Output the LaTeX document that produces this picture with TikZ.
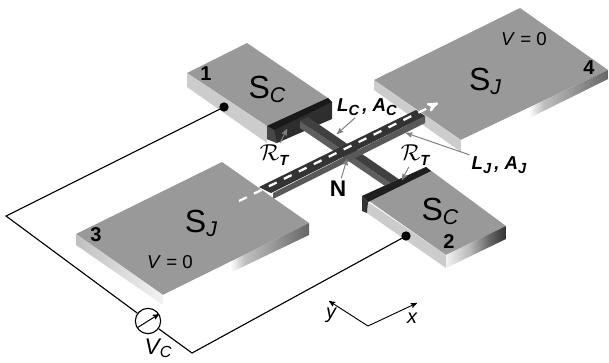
\documentclass[tikz,border=0pt]{standalone}
\usepackage{fontspec}
\setmainfont{Liberation Sans}
\usetikzlibrary{arrows,calc}
\usetikzlibrary{positioning}
\pgfdeclarehorizontalshading{jface}{100bp}{rgb(0bp)=(1,1,1);rgb(48bp)=(1,1,1);rgb(53bp)=(.75,.75,.75);rgb(75bp)=(.4,.4,.4);rgb(100bp)=(.4,.4,.4)}
\pgfdeclarehorizontalshading{cface}{100bp}{rgb(0bp)=(.95,.95,.95);rgb(25bp)=(.95,.95,.95);rgb(45bp)=(.72,.72,.72);rgb(61bp)=(.4,.4,.4);rgb(75bp)=(.2,.2,.2);rgb(100bp)=(.2,.2,.2)}
\newcommand\fs[1]{\fontsize{#1}{#1}\selectfont}
\newcommand\supname[1]{\fs{24}S\raisebox{-3pt}{\fs{16}\itshape #1}}
\newcommand\rtname{\fs{17.28}$\mathcal{R}$\raisebox{-4pt}{\fs{11}\bfseries\itshape T}}
\newcommand\lenname[1]{\fs{14}\bfseries\itshape L\raisebox{-2.5pt}{\fs{11}#1}\,, A\raisebox{-2.5pt}{\fs{11}#1}}
\definecolor{topgray}{gray}{0.6}
\definecolor{sidegray}{gray}{0.8}
\tikzset{
    >=stealth',
    wire/.style={
           black,
           line width=0.85pt,
           },
    pil/.style={
           ->,
           gray,
           line width=0.75pt,
           shorten <=1pt,
           },
    axis/.style={
           ->,
           black,
           line width=0.7pt,
           },
    num/.style={
           inner sep=0pt,
           font=\fs{15}\bfseries,
           },
    zero/.style={
           inner sep=0pt,
           font=\fs{14},
           },
    txt/.style={
           inner sep=1pt,
           },
    contact/.style={
           circle,
           fill=black,
           inner sep=0pt,
           minimum size=7pt,
           }
}
\begin{document}
\begin{tikzpicture}[x=0.75pt,y=-0.75pt]
	\useasboundingbox (0,0) rectangle (609,362);
	% block 4
	\fill[topgray] (374,80) -- (520,8) -- (608,70) -- (461,140) -- cycle;
	\fill[sidegray] (374,80) -- (461,140) -- (461,152) -- (374,90) -- cycle;
	\shade[shading=jface] (461,140) -- (608,70) -- (608,79) -- (461,152) -- cycle;
	% block 1
	\fill[topgray] (187,73) -- (247,43) -- (328,98) -- (267,126) -- cycle;
	\fill[sidegray] (187,73) -- (267,126) -- (267,143) -- (187,87) -- cycle;
	\fill[black!82] (267,126) -- (328,98) -- (332,102) -- (332,119) -- (277,143) -- (267,139) -- cycle;
	\fill[black!90] (267,126) -- (328,98) -- (332,102) -- (274,130) -- cycle;
	\fill[black!72] (267,126) -- (274,130) -- (277,143) -- (267,139) -- cycle;
	% long strip across
	\fill[black!63] (300,121) -- (300,128) -- (388,188) -- (392,184) -- cycle;
	\fill[black!75] (300,121) -- (308,117) -- (400,180) -- (392,184) -- cycle;
	\fill[black!65] (273,193) -- (425,116) -- (425,123) -- (273,199) -- cycle;
	\fill[black!80] (259,187) -- (416,110) -- (425,116) -- (271,193) -- cycle;
	% block 3
	\fill[topgray] (76,234) -- (222,162) -- (309,223) -- (163,295) -- cycle;
	\shade[left color=black!25,right color=black!5] (76,234) -- (163,295) -- (163,305) -- (76,245) -- cycle;
	\shade[shading=jface] (163,295) -- (309,223) -- (309,235) -- (163,305) -- cycle;
	% block 2
	\fill[topgray] (362,196) -- (426,167) -- (506,226) -- (446,255) -- cycle;
	\fill[sidegray] (368,202) -- (446,255) -- (446,268) -- (367,213) -- cycle;
	\shade[shading=cface] (446,255) -- (506,226) -- (506,239) -- (446,268) -- cycle;
	\fill[black!88] (362,196) -- (426,167) -- (431,171) -- (368,202) -- cycle;
	\fill[black!80] (362,196) -- (368,202) -- (367,213) -- (362,211) -- cycle;
	% white current line
	\coordinate (ds) at (239,201);
	\coordinate (dt) at (438,103);
	\draw[->,white,line width=1.7pt,dash pattern=on 6.5pt off 6pt] (ds) -- (dt);
	% circuit
	\node (c1) at (224,107) [contact] {};
	\node (c2) at (406,236) [contact] {};
	\coordinate (wl) at (6,216);
	\coordinate (wr) at (192,353);
	\node (vm) at (148,321) [circle,draw,fill=white,line width=0.85pt,inner sep=0pt,minimum size=19pt] {};
	\draw[wire] (c1.center) -- (wl) -- (vm);
	\draw[wire] (vm) -- (wr) -- (c2.center);
	\draw[->,line width=0.75pt] (vm.212) -- (vm.32);
	% axes
	\coordinate (o) at (368,326);
	\coordinate (ax) at (417,303);
	\coordinate (ay) at (329,301);
	\draw[axis] (o) -- (ax);
	\draw[axis] (o) -- (ay);
	\node (x) at (412,318) [txt] {\fs{15}\itshape x};
	\node (y) at (331,315) [txt] {\fs{15}\itshape y};
	% names
	\node (s1) at (267,89) [txt] {\supname{C}};
	\node (s2) at (440,211) [txt] {\supname{C}};
	\node (s3) at (201,223) [txt] {\supname{J}};
	\node (s4) at (485,81) [txt] {\supname{J}};
	\node (n1) at (206,74) [num] {1};
	\node (n2) at (449,242) [num] {2};
	\node (n3) at (96,235) [num] {3};
	\node (n4) at (589,68) [num] {4};
	\node (v4) at (524,39) [zero] {\textit{V} = 0};
	\node (v3) at (170,262) [zero] {\textit{V} = 0};
	\node (vc) at (158,348) [txt] {\fs{17}\itshape V\raisebox{-2pt}{\fs{12}C}};
	\node (lc) at (367,107) [txt] {\lenname{C}};
	\node (lj) at (499,165) [txt] {\lenname{J}};
	\node (n) at (338,189) [inner sep=1pt] {\fs{17}\bfseries N};
	\node (r1) at (274,155) [inner sep=0pt] {\rtname};
	\node (r2) at (415,155) [inner sep=0pt] {\rtname};
	% pointers
	\coordinate (plc) at (337,134);
	\coordinate (plj) at (406,133);
	\coordinate (pn) at (347,159);
	\coordinate (pr1) at (287,129);
	\coordinate (pr2) at (402,180);
	\draw[pil] (lc) to (plc);
	\draw[pil] (lj) to (plj);
	\draw[pil] (n) to (pn);
	\draw[pil] (r1) to (pr1);
	\draw[pil] (r2) to (pr2);
\end{tikzpicture}
\end{document}
